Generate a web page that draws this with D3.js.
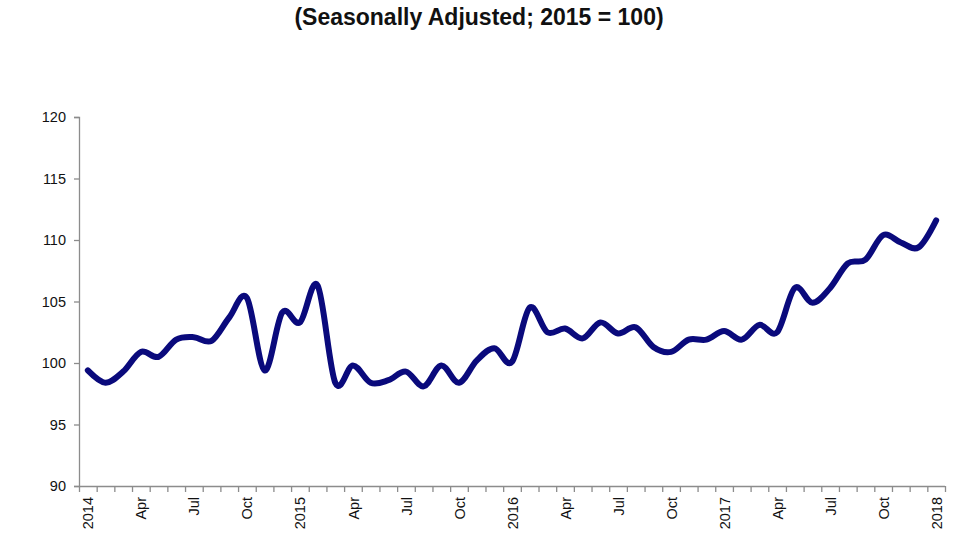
<!DOCTYPE html>
<html>
<head>
<meta charset="utf-8">
<script src="https://cdn.jsdelivr.net/npm/d3@7"></script>
<style>
  html, body { margin: 0; padding: 0; background: #fff; }
  svg { display: block; }
</style>
</head>
<body>
<svg id="chart" width="980" height="552"></svg>
<script>
// ---- data ----
const years = [2014, 2015, 2016, 2017, 2018];
const quarterLabels = ["", "Apr", "Jul", "Oct"];
const values = [
  99.4, 98.4, 99.3, 100.9, 100.5, 101.9, 102.1, 101.8, 103.7, 105.3, 99.4, 104.1,
  103.3, 106.3, 98.4, 99.8, 98.4, 98.6, 99.3, 98.1, 99.8, 98.4, 100.2, 101.2,
  100.1, 104.5, 102.5, 102.8, 102.0, 103.3, 102.4, 102.9, 101.3, 100.9, 101.9, 101.9,
  102.6, 101.9, 103.1, 102.5, 106.1, 104.9, 106.1, 108.1, 108.4, 110.4, 109.8, 109.4,
  111.6
];
const yTicks = [90, 95, 100, 105, 110, 115, 120];
const titleText = "(Seasonally Adjusted; 2015 = 100)";

// category labels: Jan 2014 .. Jan 2018
const catLabels = values.map((v, i) => {
  const yr = years[0] + Math.floor(i / 12);
  const m = i % 12;
  if (m === 0) return String(yr);
  if (m % 3 === 0) return quarterLabels[m / 3];
  return "";
});

// ---- layout ----
const svg = d3.select("#chart");
const mLeft = 79, mRight = 945, mTop = 117, mBottom = 486;

const x = d3.scaleLinear().domain([0, values.length]).range([mLeft, mRight]);
const y = d3.scaleLinear().domain([90, 120]).range([mBottom, mTop]);

const axisColor = "#8c8c8c";
const font = "'Liberation Sans', Arial, sans-serif";

// title
svg.append("text")
  .attr("x", 479).attr("y", 25)
  .attr("text-anchor", "middle")
  .attr("font-family", font)
  .attr("font-weight", "bold")
  .attr("font-size", 23)
  .attr("fill", "#111")
  .text(titleText);

// y axis
const yAxis = svg.append("g")
  .attr("transform", `translate(${mLeft},0)`)
  .call(d3.axisLeft(y).tickValues(yTicks).tickSize(5).tickPadding(8));
yAxis.select(".domain").attr("stroke", axisColor).attr("stroke-width", 1.3);
yAxis.selectAll(".tick line").attr("stroke", axisColor).attr("stroke-width", 1.3);
yAxis.selectAll(".tick text")
  .attr("font-family", font).attr("font-size", 14.5).attr("fill", "#111");

// x axis: tick marks at category boundaries
const xAxis = svg.append("g")
  .attr("transform", `translate(0,${mBottom})`)
  .call(d3.axisBottom(x).tickValues(d3.range(values.length + 1)).tickSize(6).tickFormat(""));
xAxis.select(".domain").attr("stroke", axisColor).attr("stroke-width", 1.3)
  .attr("d", `M${mLeft},0.5H${mRight}`);
xAxis.selectAll(".tick line").attr("stroke", axisColor).attr("stroke-width", 1.3);

// x labels at category centres, every 3 months
const labelIdx = d3.range(values.length).filter(i => catLabels[i] !== "");
const xLab = svg.append("g")
  .attr("transform", `translate(0,${mBottom})`)
  .call(d3.axisBottom(x).tickValues(labelIdx.map(i => i + 0.5))
    .tickSize(0).tickPadding(0)
    .tickFormat(d => catLabels[Math.floor(d)]));
xLab.select(".domain").remove();
xLab.selectAll(".tick text")
  .attr("font-family", font).attr("font-size", 14.5).attr("fill", "#111")
  .attr("transform", "rotate(-90)")
  .attr("text-anchor", "end")
  .attr("dy", "0.35em")
  .attr("x", -11)
  .attr("y", 0);

// line
const line = d3.line()
  .x((d, i) => x(i + 0.5))
  .y(d => y(d))
  .curve(d3.curveCardinal.tension(0));

svg.append("path")
  .datum(values)
  .attr("d", line)
  .attr("fill", "none")
  .attr("stroke", "#0a0a7c")
  .attr("stroke-width", 6)
  .attr("stroke-linejoin", "round")
  .attr("stroke-linecap", "round");
</script>
</body>
</html>
